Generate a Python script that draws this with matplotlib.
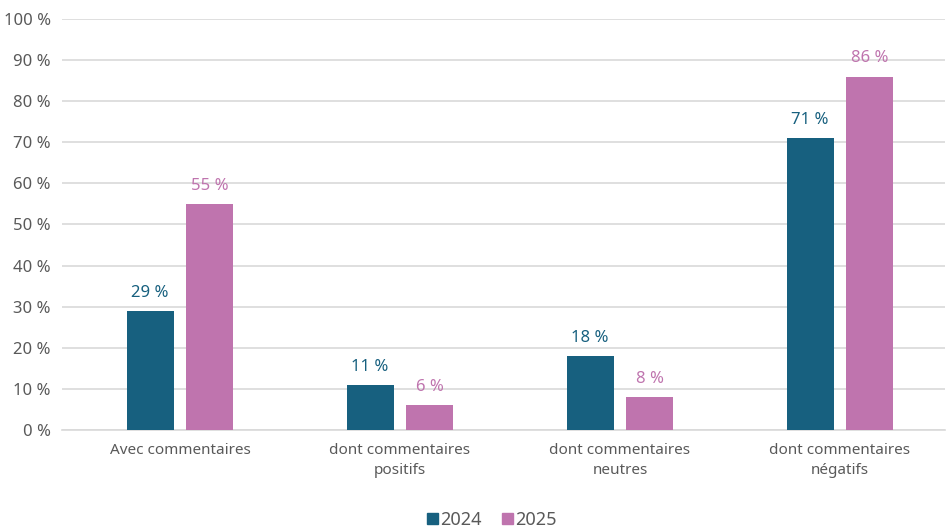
import matplotlib
matplotlib.use("Agg")
import matplotlib.pyplot as plt
import numpy as np
from matplotlib.patches import Patch

# Data
categories = ["Avec commentaires", "dont commentaires\npositifs",
              "dont commentaires\nneutres", "dont commentaires\nnégatifs"]
series_names = ["2024", "2025"]
values_2024 = [29, 11, 18, 71]
values_2025 = [55, 6, 8, 86]
y_ticks = [0, 10, 20, 30, 40, 50, 60, 70, 80, 90, 100]

colors = ["#17607F", "#BF74AE"]
label_colors = ["#17607F", "#BF74AE"]
tick_color = "#595959"
grid_color = "#D9D9D9"

plt.rcParams['font.family'] = ['Noto Sans', 'DejaVu Sans']

W, H = 947, 531
fig = plt.figure(figsize=(W / 100, H / 100), dpi=100)
ax = fig.add_axes([62 / W, 1 - 430 / H, (945 - 62) / W, (430 - 19) / H])

x = np.arange(len(categories))
bar_w = 0.213
offset = 0.136

for i, (vals, c, lc) in enumerate(zip([values_2024, values_2025], colors, label_colors)):
    pos = x + (offset * (2 * i - 1))
    ax.bar(pos, vals, width=bar_w, color=c, zorder=3)
    for p, v in zip(pos, vals):
        ax.text(p, v + 2.5, f"{v} %", ha="center", va="bottom",
                color=lc, fontsize=12)

ax.set_xlim((62 - 180) / 220, (945 - 180) / 220)
ax.set_ylim(0, 100)
ax.set_yticks(y_ticks)
ax.set_yticklabels([f"{t} %" for t in y_ticks])
ax.set_xticks(x)
ax.set_xticklabels(categories, linespacing=1.5)

ax.grid(axis="y", color=grid_color, linewidth=1.2, zorder=0)
for s in ["top", "right", "left"]:
    ax.spines[s].set_visible(False)
ax.spines["bottom"].set_color(grid_color)
ax.spines["bottom"].set_linewidth(1.2)
ax.tick_params(axis="y", length=0, pad=8, labelsize=12, labelcolor=tick_color)
ax.tick_params(axis="x", length=0, pad=9, labelsize=11, labelcolor=tick_color)

handles = [Patch(color=c, label=n) for c, n in zip(colors, series_names)]
fig.legend(handles=handles, loc="center", bbox_to_anchor=(492 / W, 1 - 520 / H),
           ncol=2, frameon=False, fontsize=13, handlelength=0.6, handleheight=0.6,
           handletextpad=0.15, columnspacing=1.1, labelcolor=tick_color)

fig.savefig("out.png", dpi=100)
